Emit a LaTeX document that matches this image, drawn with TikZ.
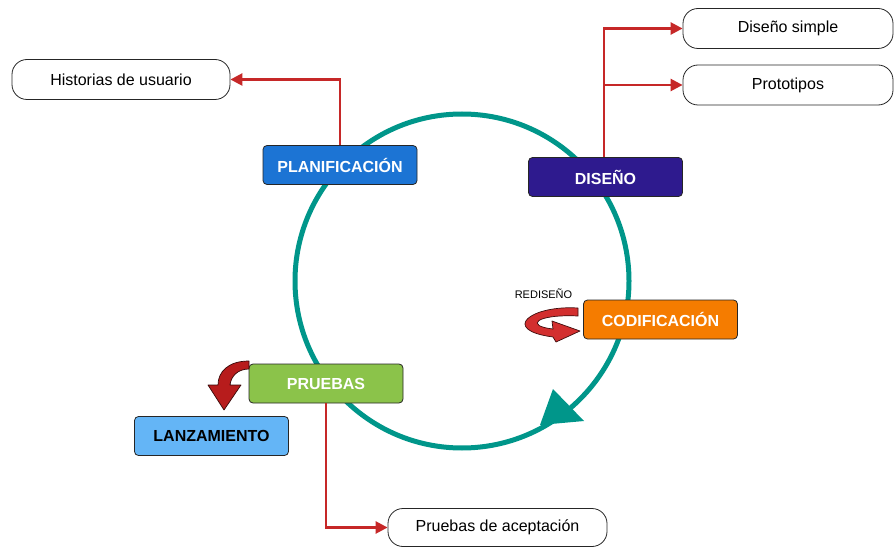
\documentclass[tikz,border=0pt]{standalone}
\usepackage{fontspec}
\setmainfont{Liberation Sans}
\usetikzlibrary{arrows.meta}

\definecolor{cycleteal}{HTML}{00968A}
\definecolor{planblue}{HTML}{1C74D4}
\definecolor{disindigo}{HTML}{2E1A8E}
\definecolor{codorange}{HTML}{F57C00}
\definecolor{pruegreen}{HTML}{8BC34A}
\definecolor{lanzblue}{HTML}{64B5F6}
\definecolor{linkred}{HTML}{C62828}
\definecolor{turnred}{HTML}{D32F2F}
\definecolor{dropred}{HTML}{B71C1C}

\begin{document}
\begin{tikzpicture}[x=1pt,y=-1pt,
  phase/.style={draw=black!85, line width=0.8pt, rounded corners=4pt,
    minimum width=154pt, minimum height=39pt, inner sep=0pt,
    font=\bfseries\fontsize{16}{19}\selectfont, text=white},
  pill/.style={draw=black!85, line width=0.8pt, rounded corners=15pt,
    minimum height=40pt, inner sep=0pt, fill=white,
    font=\fontsize{16}{19}\selectfont},
  link/.style={draw=linkred, line width=2.5pt,
    -{Triangle[length=12pt,width=12pt]}},
  curlarrow/.style={line width=0.7pt, line join=round}
]
\useasboundingbox (0,0) rectangle (894,548);

% development cycle, running clockwise
\draw[cycleteal, line width=5pt]
  (462,281) ++(167,0) arc[start angle=0, end angle=360, radius=167];
\fill[cycleteal] (553,389) -- (584,421) -- (540,425) -- cycle;

% phases
\node[phase, fill=planblue]  (plan)  at (340,165)   {PLANIFICACIÓN};
\node[phase, fill=disindigo] (dis)   at (605.5,177) {DISEÑO};
\node[phase, fill=codorange] (codif) at (660.5,319.5) {CODIFICACIÓN};
\node[phase, fill=pruegreen] (prue)  at (326,383.5) {PRUEBAS};
\node[phase, fill=lanzblue, text=black] (lanz) at (211.5,436) {LANZAMIENTO};

% artefacts
\node[pill, minimum width=218pt] (hist)    at (121,79.5)  {Historias de usuario};
\node[pill, minimum width=210pt] (dsimple) at (788,28.5)  {Diseño simple};
\node[pill, minimum width=210pt] (proto)   at (788,85)    {Prototipos};
\node[pill, minimum width=219pt, minimum height=38pt] (acep) at (497.5,527.5) {Pruebas de aceptación};

% links from phases to artefacts
\draw[link] (plan.north) |- (hist.east);
\draw[link] ([xshift=-1.5pt]dis.north) |- (dsimple.west);
\draw[link] ([xshift=-1.5pt]dis.north) |- (proto.west);
\draw[link] (prue.south) |- (acep.west);

% redesign loop
\node[font=\fontsize{11}{13}\selectfont] (redis) at (543.5,294) {REDISEÑO};
\filldraw[curlarrow, fill=turnred, draw=black!70!turnred]
  (578,308) .. controls (530,305) and (500,330) .. (553,337)
  -- (556,342) -- (580,331) -- (552,321) -- (553,329)
  .. controls (525,326) and (535,314) .. (578,316) -- cycle;

% release arrow
\filldraw[curlarrow, fill=dropred, draw=black!70!dropred]
  (249,361) .. controls (228,361) and (218,372) .. (218,385)
  -- (208,385) -- (224,410) -- (241,385) -- (230,385)
  .. controls (231,376) and (238,369) .. (249,369) -- cycle;
\end{tikzpicture}
\end{document}
